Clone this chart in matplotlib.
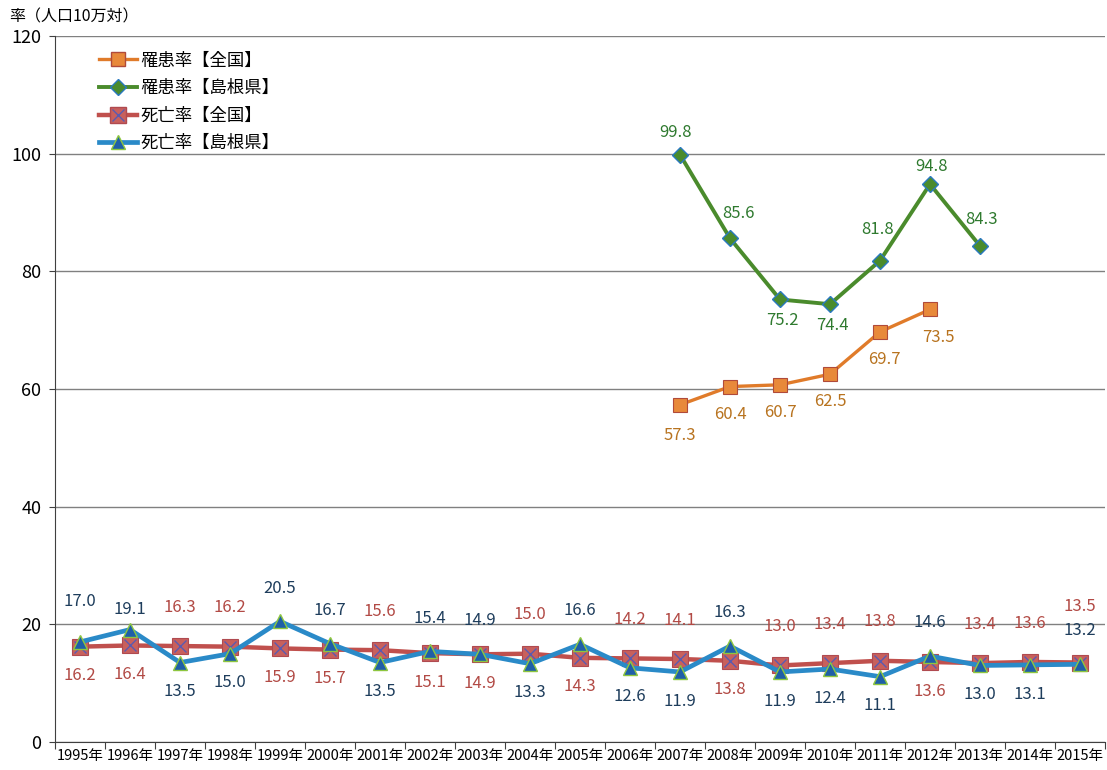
import numpy as np
import matplotlib
matplotlib.use('Agg')
import matplotlib.pyplot as plt
from matplotlib.lines import Line2D

plt.rcParams['font.family'] = ['Noto Sans CJK JP', 'DejaVu Sans']

# data
years = [str(y) + '年' for y in range(1995, 2016)]
inc_nat = [None] * 12 + [57.3, 60.4, 60.7, 62.5, 69.7, 73.5, None, None, None]
inc_shimane = [None] * 12 + [99.8, 85.6, 75.2, 74.4, 81.8, 94.8, 84.3, None, None]
mort_nat = [16.2, 16.4, 16.3, 16.2, 15.9, 15.7, 15.6, 15.1, 14.9, 15.0, 14.3,
            14.2, 14.1, 13.8, 13.0, 13.4, 13.8, 13.6, 13.4, 13.6, 13.5]
mort_shimane = [17.0, 19.1, 13.5, 15.0, 20.5, 16.7, 13.5, 15.4, 14.9, 13.3, 16.6,
                12.6, 11.9, 16.3, 11.9, 12.4, 11.1, 14.6, 13.0, 13.1, 13.2]
legend_names = ['罹患率【全国】', '罹患率【島根県】', '死亡率【全国】', '死亡率【島根県】']
y_label = '率（人口10万対）'

# label side: >0 above, <0 below (value scales the default gap)
side_inc_nat = [-1.1, -1, -1, -1, -1, -1]
side_inc_shimane = [1, 1.1, -1, -1, 1.4, 0.8, 1.2]
side_mort_nat = [-1, -1, 1, 1, -1, -1, 1, -1, -1, 1, -1, 1, 1, -1, 1, 1, 1, -1, 1, 1, 1.45]
side_mort_shimane = [1.2, 0.6, -1, -1, 1, 1, -1, 1, 1, -1, 1, -1, -1, 1, -1, -1, -1, 1, -1, -1, 1]
# small horizontal nudges (points)
dx_inc_shimane = [-3, 6, 2, 2, -2, 1, 1]
dx_inc_nat = [0, 0, 0, 0, 3, 6]

x = np.arange(len(years))

fig = plt.figure(figsize=(11.07, 7.70), dpi=100)
ax = fig.add_axes([0.0497, 0.0364, 0.9485, 0.917])

def to_arr(v):
    return np.array([np.nan if a is None else a for a in v], dtype=float)

c_orange = '#e07b2a'
c_green = '#4a8b2c'
c_red = '#c0504d'
c_blue = '#2a8ac8'

ax.plot(x, to_arr(inc_nat), '-', color=c_orange, lw=2.4, marker='s', ms=10,
        mfc='#e8893a', mec='#b04a3a', mew=0.8, zorder=3)
ax.plot(x, to_arr(inc_shimane), '-', color=c_green, lw=2.8, marker='D', ms=8,
        mfc='#4a8b2c', mec='#2a7ac0', mew=1.0, zorder=3)
ax.plot(x, to_arr(mort_nat), '-', color=c_red, lw=3.2, marker='s', ms=11,
        mfc='#c8605c', mec='#b04a50', mew=0.8, zorder=3)
ax.plot(x, to_arr(mort_nat), ' ', marker='x', ms=8, mec='#5a5ab0', mew=1.0, zorder=3)
ax.plot(x, to_arr(mort_shimane), '-', color=c_blue, lw=3.4, marker='^', ms=10,
        mfc='#1f5fa8', mec='#8ec63f', mew=1.0, zorder=4)

def add_labels(vals, sides, color, up, down, dxs=None):
    k = 0
    for i, v in enumerate(vals):
        if v is None:
            continue
        s = sides[k]
        dx = dxs[k] if dxs else 0
        k += 1
        off = s * up if s > 0 else s * down
        ax.annotate('%.1f' % v, (x[i], v), xytext=(dx, off), textcoords='offset points',
                    ha='center', va='center', fontsize=12, color=color, zorder=5)

add_labels(inc_nat, side_inc_nat, '#b8731f', 18, 20, dx_inc_nat)
add_labels(inc_shimane, side_inc_shimane, '#2f7a2f', 16, 15, dx_inc_shimane)
add_labels(mort_nat, side_mort_nat, '#b24a45', 28, 21)
add_labels(mort_shimane, side_mort_shimane, '#1e3d5c', 24, 21)

ax.set_xlim(-0.5, len(years) - 0.5)
ax.set_ylim(0, 120)
ax.set_yticks(np.arange(0, 121, 20))
ax.yaxis.grid(True, color='#808080', lw=1.0)
ax.set_axisbelow(True)
ax.set_xticks(np.arange(-0.5, len(years), 1.0))
ax.set_xticklabels([])
ax.set_xticks(x, minor=True)
ax.set_xticklabels(years, minor=True, fontsize=10.5)
ax.tick_params(axis='x', which='minor', length=0, pad=5)
ax.tick_params(axis='x', which='major', length=5, direction='out', color='#404040')
ax.tick_params(axis='y', labelsize=13, length=4, color='#404040', pad=6)
for sp in ['top', 'right']:
    ax.spines[sp].set_visible(False)
ax.spines['left'].set_color('#404040')
ax.spines['bottom'].set_color('#404040')

handles = [
    Line2D([], [], color=c_orange, lw=2.4, marker='s', ms=10, mfc='#e8893a', mec='#b04a3a'),
    Line2D([], [], color=c_green, lw=2.8, marker='D', ms=8, mfc='#4a8b2c', mec='#2a7ac0'),
    (Line2D([], [], color=c_red, lw=3.2, marker='s', ms=11, mfc='#c8605c', mec='#b04a50'),
     Line2D([], [], ls=' ', marker='x', ms=8, mec='#5a5ab0')),
    Line2D([], [], color=c_blue, lw=3.4, marker='^', ms=10, mfc='#1f5fa8', mec='#8ec63f'),
]
ax.legend(handles, legend_names, loc='upper left', bbox_to_anchor=(0.027, 1.0),
          frameon=False, fontsize=12.5, handlelength=2.2, labelspacing=0.55,
          handletextpad=0.2)

fig.text(0.008, 0.978, y_label, fontsize=11.5, ha='left', va='center')

fig.savefig('out.png', dpi=100)
